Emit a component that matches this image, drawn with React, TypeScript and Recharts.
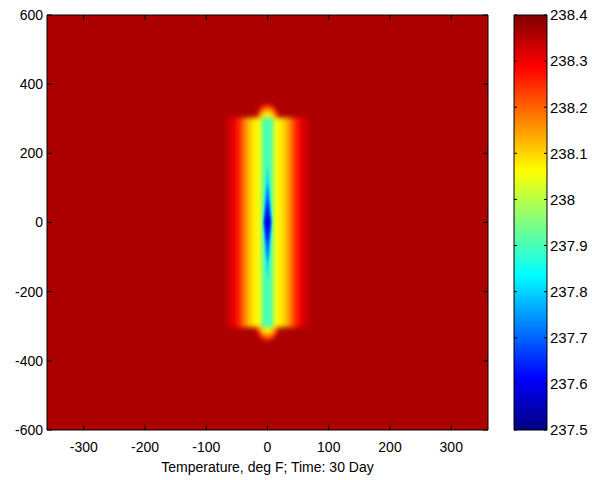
import React from 'react';
import { ComposedChart, XAxis, YAxis, ReferenceArea, ReferenceLine, Label } from 'recharts';

// axis ticks
const xTicks = [-300, -200, -100, 0, 100, 200, 300];
const yTicks = [-600, -400, -200, 0, 200, 400, 600];
const tempTicks = [237.5, 237.6, 237.7, 237.8, 237.9, 238, 238.1, 238.2, 238.3, 238.4];

const xRange = [-360, 360];
const yRange = [-600, 600];
const tempRange = [237.5, 238.4];

// far-field temperature
const ambientTemp = 238.36;

// warm band: temperature across x, the same at every y inside bandY
const bandX = [-72, -62, -54, -46, -38, -30, -22, -14, -10, -6, 0, 6, 10, 14, 22, 30, 38, 46, 54, 62, 72];
const bandTemp = [
  238.36, 238.33, 238.3, 238.25, 238.18, 238.12, 238.08, 238.05, 237.99, 237.92, 237.9,
  237.92, 237.99, 238.05, 238.08, 238.12, 238.18, 238.25, 238.3, 238.33, 238.36,
];
const bandY = [-303, 303];

// cold core isotherms around the origin
const coreHalfX = [7, 6, 4.5, 3];
const coreHalfY = [170, 115, 65, 32];
const coreTemp = [237.8, 237.7, 237.62, 237.56];

// warm caps at both ends of the core column, centred on the band edge
const capHalfX = [17, 13, 9];
const capHalfY = [38, 28, 18];
const capTemp = [238.25, 238.15, 238.07];

// jet colormap
const clamp = (v: number) => Math.max(0, Math.min(1, v));
const jet = (temp: number) => {
  const t = clamp((temp - tempRange[0]) / (tempRange[1] - tempRange[0]));
  const r = clamp(Math.min(4 * t - 1.5, -4 * t + 4.5));
  const g = clamp(Math.min(4 * t - 0.5, -4 * t + 3.5));
  const b = clamp(Math.min(4 * t + 0.5, -4 * t + 2.5));
  const hex = (c: number) => Math.round(c * 255).toString(16).padStart(2, '0');
  return `#${hex(r)}${hex(g)}${hex(b)}`;
};
const jetStops = [0, 0.125, 0.375, 0.625, 0.875, 1];

const font = 'Arial, "Liberation Sans", sans-serif';
const tickStyle = { fontSize: 14, fontFamily: font, fill: '#000' };

const diamond = (p: any) => {
  const { x, y, width: w, height: h, fill } = p;
  const pts = `${x + w / 2},${y} ${x + w},${y + h / 2} ${x + w / 2},${y + h} ${x},${y + h / 2}`;
  return <polygon points={pts} fill={fill} filter="url(#soft)" />;
};

const blob = (p: any) => {
  const { x, y, width: w, height: h, fill } = p;
  return <ellipse cx={x + w / 2} cy={y + h / 2} rx={w / 2} ry={h / 2} fill={fill} filter="url(#capSoft)" />;
};

const band = (p: any) => {
  const { x, y, width: w, height: h } = p;
  return <rect x={x} y={y} width={w} height={h} fill="url(#bandGrad)" filter="url(#bandBlur)" />;
};

// short inward marks at both ends of a grid line, like matlab's boxed axes
const tickPair = (len: number) => (p: any) => {
  const { x1, y1, x2, y2 } = p;
  if ([x1, y1, x2, y2].some((v) => typeof v !== 'number')) return <g />;
  const d = Math.hypot(x2 - x1, y2 - y1) || 1;
  const ux = ((x2 - x1) / d) * len;
  const uy = ((y2 - y1) / d) * len;
  return (
    <g stroke="#000" strokeWidth={1}>
      <line x1={x1} y1={y1} x2={x1 + ux} y2={y1 + uy} />
      <line x1={x2} y1={y2} x2={x2 - ux} y2={y2 - uy} />
    </g>
  );
};

const profile = bandX.map((x, i) => ({ x, temp: bandTemp[i] }));
const barRows = tempTicks.map((t) => ({ pos: 0.5, temp: t }));

const ax = { xAxisId: 'bottom', yAxisId: 'left' };
const chartMargin = { top: 15, right: 12, bottom: 5, left: 0 };
const barMargin = { top: 15, right: 0, bottom: 50, left: 14 };

const mapAxes = (labels: boolean) => [
  <XAxis key="xb" xAxisId="bottom" dataKey="x" type="number" domain={xRange} ticks={xTicks} interval={0}
    height={45} tickSize={-5} tickMargin={17} axisLine={false} tickLine={false}
    tick={labels ? tickStyle : { ...tickStyle, fill: 'none' }} allowDataOverflow>
    {labels && (
      <Label value="Temperature, deg F; Time: 30 Day" position="insideBottom" offset={3}
        fill="#000" fontSize={14} fontFamily={font} />
    )}
  </XAxis>,
  <YAxis key="yl" yAxisId="left" type="number" domain={yRange} ticks={yTicks} interval={0} width={47}
    tickSize={-5} tickMargin={9} axisLine={false} tickLine={false}
    tick={labels ? tickStyle : { ...tickStyle, fill: 'none' }} allowDataOverflow />,
];

const barAxes = (labels: boolean) => [
  <XAxis key="x" dataKey="pos" type="number" domain={[0, 1]} hide />,
  <YAxis key="yr" yAxisId="right" orientation="right" type="number" domain={tempRange} ticks={tempTicks}
    interval={0} width={45} tickSize={-3} tickMargin={6} axisLine={false} tickLine={false}
    tick={{ ...tickStyle, fontSize: 15, fill: labels ? '#000' : 'none' }} allowDataOverflow />,
];

const HeatMap = () => {
  const xSpan = bandX[bandX.length - 1] - bandX[0];
  return (
    <ComposedChart width={500} height={480} data={profile} margin={chartMargin}>
      <defs>
        <linearGradient id="bandGrad" x1="0" y1="0" x2="1" y2="0">
          {bandX.map((bx, i) => (
            <stop key={i} offset={(bx - bandX[0]) / xSpan} stopColor={jet(bandTemp[i])} />
          ))}
        </linearGradient>
        <filter id="bandBlur" x="-0.1" y="-0.1" width="1.2" height="1.2">
          <feGaussianBlur stdDeviation="0 2.5" />
        </filter>
        <filter id="soft" x="-1" y="-0.5" width="3" height="2">
          <feGaussianBlur stdDeviation="1" />
        </filter>
        <filter id="capSoft" x="-1" y="-1" width="3" height="3">
          <feGaussianBlur stdDeviation="2.5" />
        </filter>
      </defs>
      {mapAxes(true)}

      <ReferenceArea {...ax} x1={xRange[0]} x2={xRange[1]} y1={yRange[0]} y2={yRange[1]}
        fill={jet(ambientTemp)} fillOpacity={1} />
      {capTemp.map((t, i) => (
        <ReferenceArea key={`top${i}`} {...ax} x1={-capHalfX[i]} x2={capHalfX[i]}
          y1={bandY[1] - capHalfY[i]} y2={bandY[1] + capHalfY[i]} fill={jet(t)} shape={blob} />
      ))}
      {capTemp.map((t, i) => (
        <ReferenceArea key={`bot${i}`} {...ax} x1={-capHalfX[i]} x2={capHalfX[i]}
          y1={bandY[0] - capHalfY[i]} y2={bandY[0] + capHalfY[i]} fill={jet(t)} shape={blob} />
      ))}
      <ReferenceArea {...ax} x1={bandX[0]} x2={bandX[bandX.length - 1]} y1={bandY[0]} y2={bandY[1]}
        shape={band} />
      {coreTemp.map((t, i) => (
        <ReferenceArea key={`core${i}`} {...ax} x1={-coreHalfX[i]} x2={coreHalfX[i]}
          y1={-coreHalfY[i]} y2={coreHalfY[i]} fill={jet(t)} shape={diamond} />
      ))}
    </ComposedChart>
  );
};

// frame and inward tick marks drawn over the map
const MapFrame = () => (
  <ComposedChart width={500} height={480} data={profile} margin={chartMargin}>
    {mapAxes(false)}
    <ReferenceArea {...ax} x1={xRange[0]} x2={xRange[1]} y1={yRange[0]} y2={yRange[1]}
      fill="none" fillOpacity={0} stroke="#000" strokeWidth={1} />
    {xTicks.map((t) => (
      <ReferenceLine key={`vx${t}`} {...ax} x={t} shape={tickPair(5)} />
    ))}
    {yTicks.map((t) => (
      <ReferenceLine key={`hy${t}`} {...ax} y={t} shape={tickPair(5)} />
    ))}
  </ComposedChart>
);

const ColorBar = () => (
  <ComposedChart width={92} height={480} data={barRows} margin={barMargin}>
    <defs>
      <linearGradient id="jetBar" x1="0" y1="1" x2="0" y2="0">
        {jetStops.map((s) => (
          <stop key={s} offset={s} stopColor={jet(tempRange[0] + s * (tempRange[1] - tempRange[0]))} />
        ))}
      </linearGradient>
    </defs>
    {barAxes(true)}
    <ReferenceArea yAxisId="right" x1={0} x2={1} y1={tempRange[0]} y2={tempRange[1]} fill="url(#jetBar)"
      fillOpacity={1} />
  </ComposedChart>
);

const BarFrame = () => (
  <ComposedChart width={92} height={480} data={barRows} margin={barMargin}>
    {barAxes(false)}
    <ReferenceArea yAxisId="right" x1={0} x2={1} y1={tempRange[0]} y2={tempRange[1]} fill="none"
      fillOpacity={0} stroke="#000" strokeWidth={1} />
    {tempTicks.map((t) => (
      <ReferenceLine key={`ct${t}`} yAxisId="right" y={t} shape={tickPair(3)} />
    ))}
  </ComposedChart>
);

const layer = (left: number): React.CSSProperties => ({ position: 'absolute', left, top: 0 });

export default function App() {
  return (
    <div style={{ position: 'absolute', left: 0, top: 0, width: 592, height: 480, background: '#fff' }}>
      <div style={layer(0)}><HeatMap /></div>
      <div style={layer(0)}><MapFrame /></div>
      <div style={layer(500)}><ColorBar /></div>
      <div style={layer(500)}><BarFrame /></div>
    </div>
  );
}
